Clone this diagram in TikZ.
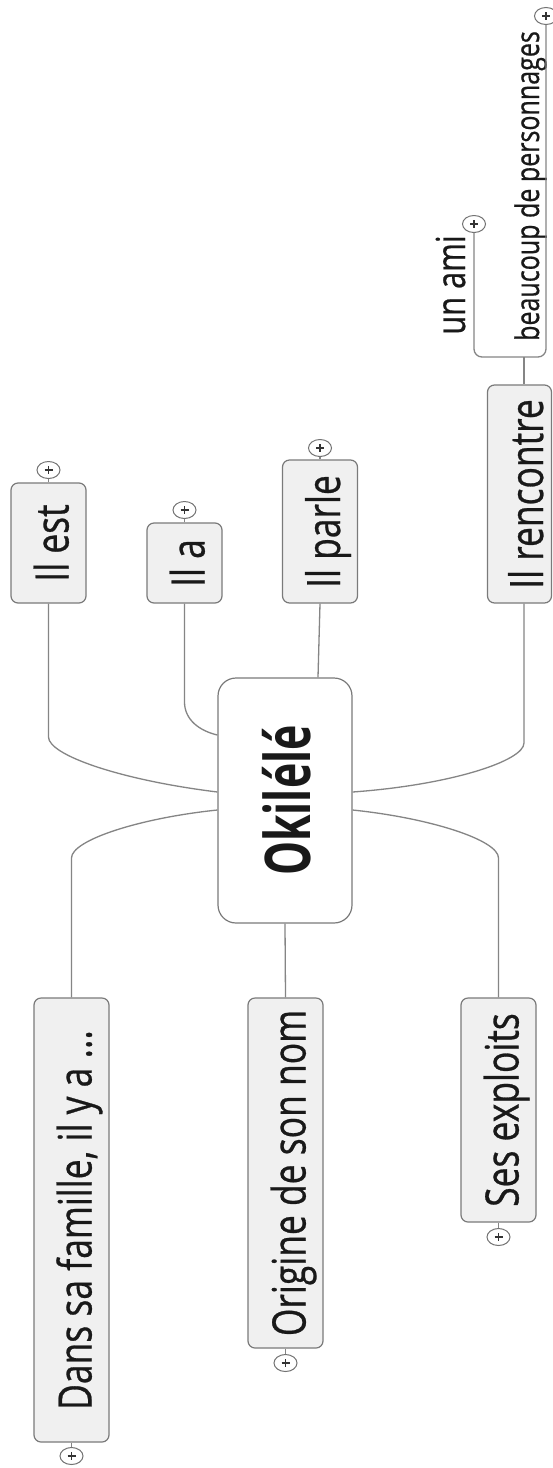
\documentclass[tikz,border=0pt]{standalone}
\usepackage{fontspec}
\setmainfont{Open Sans}
\newfontfamily\brfont[FakeStretch=0.77,FakeBold=0.6]{Open Sans}
\newfontfamily\cenfont[FakeStretch=0.68]{Open Sans}
\usetikzlibrary{shapes.geometric,calc}
\begin{document}
\begin{tikzpicture}[x=1pt,y=-1pt,
  conn/.style={draw=black!48, line width=1.3pt},
  boxn/.style={draw=black!52, fill=black!6, line width=1.2pt, rounded corners=7pt,
    rotate=90, minimum height=75pt, inner sep=0pt, text height=40pt, text depth=0pt,
    font=\brfont\fontsize{46}{50}\selectfont, text=black!90},
  cenbox/.style={draw=black!52, fill=white, line width=1.2pt, rounded corners=18pt,
    rotate=90, minimum height=134pt, minimum width=245pt, inner sep=0pt,
    text height=50pt, text depth=0pt,
    font=\cenfont\bfseries\fontsize{63}{70}\selectfont, text=black!90},
  subtxt/.style={rotate=90, inner sep=0pt, anchor=base, text=black!90},
  plusc/.style={ellipse, draw=black!55, fill=white, line width=1pt,
    minimum width=23pt, minimum height=17pt, inner sep=0pt,
    path picture={\draw[black!80, line width=1.3pt]
      ($(path picture bounding box.center)+(-4,0)$) -- ($(path picture bounding box.center)+(4,0)$)
      ($(path picture bounding box.center)+(0,-4)$) -- ($(path picture bounding box.center)+(0,4)$);}}
]
\fill[white] (0,0) rectangle (552,1468);
\useasboundingbox (0,0) rectangle (552,1468);

% central node
\node[cenbox] (cen) at (285,800.5) {Okilélé};

% branch boxes
\node[boxn, minimum width=120pt] (est) at (48.5,543) {Il est};
\node[boxn, minimum width=80pt] (ila) at (184.5,563) {Il a};
\node[boxn, minimum width=143pt] (parle) at (320,531.5) {Il parle};
\node[boxn, minimum width=218pt, minimum height=64pt, text height=47pt] (renc) at (519.5,494) {Il rencontre};
\node[boxn, minimum width=444pt] (dans) at (71.5,1220) {Dans sa famille, il y a ...};
\node[boxn, minimum width=350pt] (orig) at (285.5,1173) {Origine de son nom};
\node[boxn, minimum width=224pt] (ses) at (498.5,1110) {Ses exploits};

% sub texts of "Il rencontre"
\node[subtxt, font=\brfont\fontsize{40}{44}\selectfont] (ami) at (465,285) {un ami};
\node[subtxt, font=\brfont\fontsize{32.5}{36}\selectfont] (beau) at (539,186) {beaucoup de personnages};

% collapse circles
\node[plusc] (pest) at (48.5,470) {};
\node[plusc] (pila) at (184.5,510) {};
\node[plusc] (pparle) at (320,448) {};
\node[plusc] (pdans) at (71.5,1456) {};
\node[plusc] (porig) at (285.5,1363) {};
\node[plusc] (pses) at (498.5,1237) {};
\node[plusc] (pami) at (474,224) {};
\node[plusc] (pbeau) at (546,16) {};

% attach points on the central node
\coordinate (cL1) at ([yshift=8.5pt]cen.north);
\coordinate (cL2) at ([yshift=65.5pt]cen.north);
\coordinate (cL3) at ([yshift=-9.5pt]cen.north);
\coordinate (cR1) at ([yshift=8.5pt]cen.south);
\coordinate (cR2) at ([yshift=-9.5pt]cen.south);
\coordinate (cT) at ([xshift=33pt]cen.east);
\coordinate (rB) at ([xshift=4.5pt]renc.west);
\coordinate (rT) at ([xshift=4.5pt]renc.east);

% connectors
\draw[conn] (est.west) -- (48.5,737) .. controls (48.5,755) and (120,780) .. (cL1);
\draw[conn] (ila.west) -- (184.5,702) .. controls (184.5,720) and (200,731) .. (cL2);
\draw[conn] (parle.west) -- (cT);
\draw[conn] (rB) -- (524,743) .. controls (524,761) and (450,785) .. (cR1);
\draw[conn] (cL3) .. controls (140,818) and (71.5,840) .. (71.5,858) -- (dans.east);
\draw[conn] (cR2) .. controls (430,818) and (498.5,840) .. (498.5,858) -- (ses.east);
\draw[conn] (cen.west) -- (orig.east);

% bracket to sub texts
\draw[conn] (rT) -- (524,357);
\draw[conn, rounded corners=8pt] (pami.south) -- (474,357) -- (546,357) -- (pbeau.south);

% short links to the collapse circles
\draw[conn] (est.east) -- (pest);
\draw[conn] (ila.east) -- (pila);
\draw[conn] (parle.east) -- (pparle);
\draw[conn] (dans.west) -- (pdans);
\draw[conn] (orig.west) -- (porig);
\draw[conn] (ses.west) -- (pses);
\end{tikzpicture}
\end{document}
